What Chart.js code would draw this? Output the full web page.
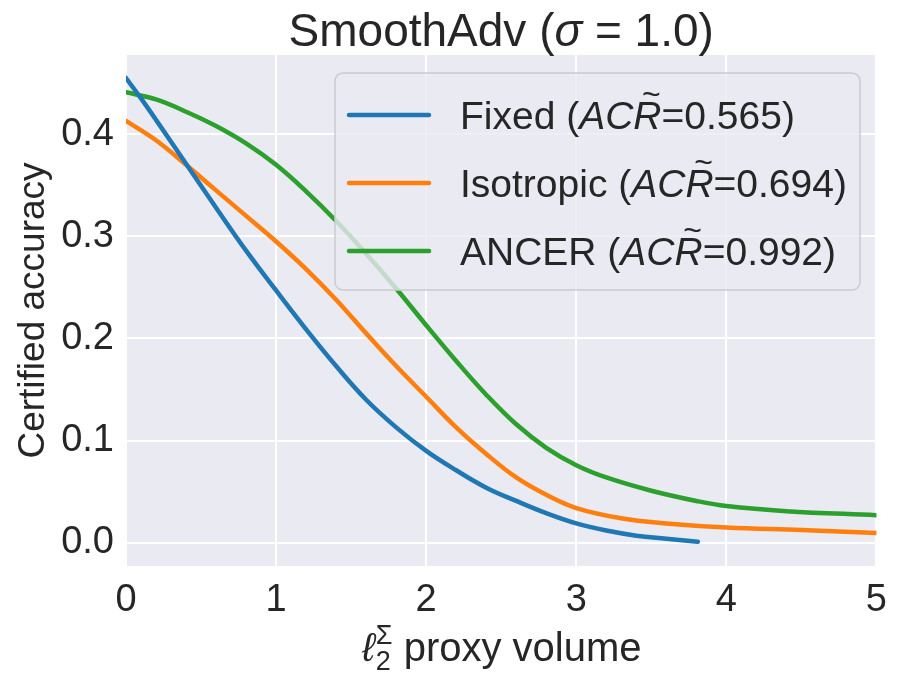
<!DOCTYPE html>
<html>
<head>
<meta charset="utf-8">
<script src="https://cdn.jsdelivr.net/npm/chart.js@4.4.1/dist/chart.umd.min.js"></script>
<style>
  html, body { margin: 0; padding: 0; background: #ffffff; }
  #wrap { width: 899px; height: 675px; position: relative; }
</style>
</head>
<body>
<div id="wrap"><canvas id="chart"></canvas></div>
<script>
// values
const fixedX = [0, 0.1, 0.2, 0.4, 0.6, 0.8, 1.0, 1.2, 1.4, 1.6, 1.8, 2.0, 2.2, 2.4, 2.6, 2.8, 3.0, 3.2, 3.4, 3.6, 3.81]
const fixedY = [0.455, 0.435, 0.414, 0.371, 0.328, 0.286, 0.247, 0.209, 0.173, 0.140, 0.113, 0.090, 0.071, 0.054, 0.041, 0.029, 0.019, 0.012, 0.007, 0.004, 0.001]

const isoX = [0, 0.2, 0.4, 0.6, 0.8, 1.0, 1.2, 1.4, 1.6, 1.8, 2.0, 2.2, 2.4, 2.6, 2.8, 3.0, 3.3, 3.6, 4.0, 4.5, 5.0]
const isoY = [0.413, 0.394, 0.370, 0.345, 0.320, 0.295, 0.268, 0.238, 0.205, 0.173, 0.143, 0.113, 0.087, 0.064, 0.047, 0.034, 0.024, 0.019, 0.015, 0.0125, 0.0095]

const ancerX = [0, 0.2, 0.4, 0.6, 0.8, 1.0, 1.2, 1.4, 1.6, 1.8, 2.0, 2.2, 2.4, 2.6, 2.8, 3.0, 3.2, 3.5, 3.8, 4.0, 4.4, 5.0]
const ancerY = [0.441, 0.434, 0.422, 0.408, 0.391, 0.370, 0.344, 0.315, 0.283, 0.249, 0.213, 0.178, 0.145, 0.116, 0.093, 0.076, 0.064, 0.051, 0.041, 0.036, 0.031, 0.027]

const seriesNames = ['Fixed', 'Isotropic', 'ANCER']
const acrValues = ['0.565', '0.694', '0.992']
const seriesColors = ['#1f77b4', '#ff7f0e', '#2ca02c']

const xTicks = [0, 1, 2, 3, 4, 5]
const yTicks = [0.0, 0.1, 0.2, 0.3, 0.4]

const FONT = "'Liberation Sans', Arial, sans-serif"
const TEXT = '#262626'

function pts(xs, ys) {
    return xs.map((x, i) => ({x: x, y: ys[i]}))
}

// title, x axis label and legend need italic / super-sub parts, so draw them here
const extras = {
    id: 'extras',
    afterDraw(chart) {
        const ctx = chart.ctx
        const area = chart.chartArea
        ctx.save()
        ctx.fillStyle = TEXT
        ctx.textBaseline = 'alphabetic'

        // title
        let parts = [['SmoothAdv (', 'normal'], ['σ', 'italic'], [' = 1.0)', 'normal']]
        let w = 0
        parts.forEach(p => { ctx.font = p[1] + ' 46px ' + FONT; w += ctx.measureText(p[0]).width })
        let x = (area.left + area.right) / 2 - w / 2
        parts.forEach(p => {
            ctx.font = p[1] + ' 46px ' + FONT
            ctx.fillText(p[0], x, 46)
            x += ctx.measureText(p[0]).width
        })

        // x axis label
        ctx.font = 'italic 40px ' + FONT
        let lw = ctx.measureText('ℓ').width
        ctx.font = '27px ' + FONT
        let sw = ctx.measureText('Σ').width
        ctx.font = '40px ' + FONT
        let pw = ctx.measureText(' proxy volume').width
        x = (area.left + area.right) / 2 - (lw + sw + pw) / 2
        let base = 661
        ctx.font = 'italic 40px ' + FONT
        ctx.fillText('ℓ', x, base)
        x += lw + 1
        ctx.font = '27px ' + FONT
        ctx.fillText('Σ', x, base - 17)
        ctx.fillText('2', x, base + 9)
        x += sw
        ctx.font = '40px ' + FONT
        ctx.fillText(' proxy volume', x, base)

        // legend box
        const bx = 335, by = 73, bw = 525, bh = 217
        ctx.beginPath()
        ctx.roundRect(bx, by, bw, bh, 8)
        ctx.fillStyle = 'rgba(234,234,242,0.8)'
        ctx.fill()
        ctx.strokeStyle = '#cccccc'
        ctx.lineWidth = 1.5
        ctx.stroke()

        const rowY = [115, 183, 251]
        seriesNames.forEach((name, i) => {
            const y = rowY[i]
            ctx.beginPath()
            ctx.moveTo(349, y)
            ctx.lineTo(429, y)
            ctx.strokeStyle = seriesColors[i]
            ctx.lineWidth = 4.5
            ctx.lineCap = 'round'
            ctx.stroke()

            ctx.fillStyle = TEXT
            let tx = 460
            let ty = y + 14
            ctx.font = '39px ' + FONT
            ctx.fillText(name + ' (', tx, ty)
            tx += ctx.measureText(name + ' (').width
            ctx.font = 'italic 39px ' + FONT
            ctx.fillText('AC', tx, ty)
            tx += ctx.measureText('AC').width
            const rw = ctx.measureText('R').width
            ctx.fillText('R', tx, ty)
            ctx.font = '32px ' + FONT
            const tw = ctx.measureText('~').width
            ctx.fillText('~', tx + rw / 2 - tw / 2 + 4, ty - 24)
            tx += rw
            ctx.font = '39px ' + FONT
            ctx.fillText('=' + acrValues[i] + ')', tx, ty)
        })
        ctx.restore()
    }
}

const allX = [fixedX, isoX, ancerX]
const allY = [fixedY, isoY, ancerY]

new Chart(document.querySelector('#chart'), {
    type: 'line',
    data: {
        datasets: seriesNames.map((name, i) => ({
            label: name,
            data: pts(allX[i], allY[i]),
            borderColor: seriesColors[i],
            backgroundColor: seriesColors[i],
            borderWidth: 4.5,
            pointRadius: 0,
            borderCapStyle: 'round',
            tension: 0.4,
            fill: false
        }))
    },
    options: {
        responsive: true,
        maintainAspectRatio: false,
        animation: false,
        layout: { padding: { top: 55, right: 19, left: 0, bottom: 0 } },
        plugins: {
            legend: { display: false },
            tooltip: { enabled: false }
        },
        scales: {
            x: {
                type: 'linear',
                min: 0,
                max: 5,
                afterBuildTicks: s => { s.ticks = xTicks.map(v => ({value: v})) },
                afterFit: s => { s.height = 109 },
                border: { display: false },
                grid: { color: '#ffffff', lineWidth: 2, drawTicks: false },
                ticks: { color: TEXT, padding: 12, font: { family: FONT, size: 38 } }
            },
            y: {
                type: 'linear',
                min: -0.0227,
                max: 0.4775,
                afterBuildTicks: s => { s.ticks = yTicks.map(v => ({value: v})) },
                afterFit: s => { s.width = 126 },
                border: { display: false },
                grid: { color: '#ffffff', lineWidth: 2, drawTicks: false },
                ticks: { color: TEXT, padding: 12, font: { family: FONT, size: 38 }, callback: v => v.toFixed(1) },
                title: { display: true, text: 'Certified accuracy', color: TEXT, padding: { top: 12, bottom: 0 }, font: { family: FONT, size: 37 } }
            }
        }
    },
    plugins: [{
        id: 'bg',
        beforeDraw(chart) {
            const a = chart.chartArea
            chart.ctx.save()
            chart.ctx.fillStyle = '#eaeaf2'
            chart.ctx.fillRect(a.left, a.top, a.right - a.left, a.bottom - a.top)
            chart.ctx.restore()
        }
    }, extras]
})
</script>
</body>
</html>
